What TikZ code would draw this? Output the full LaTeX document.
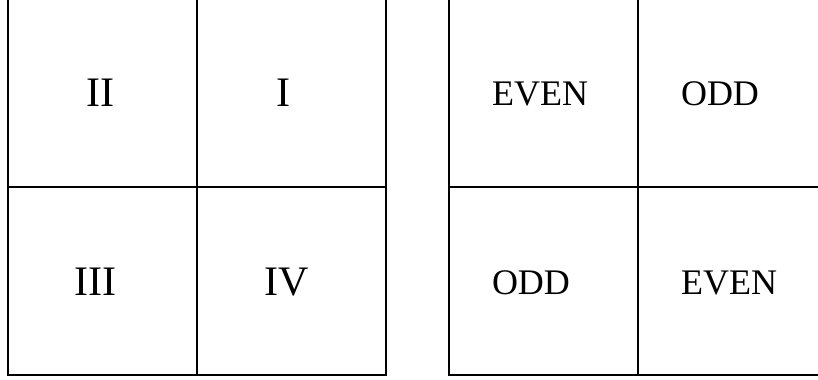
\documentclass[tikz,border=0pt]{standalone}
\usepackage{fontspec}
\setmainfont{Liberation Serif}
\begin{document}
\begin{tikzpicture}[x=0.75pt,y=-0.75pt,
		rejilla/.style={line width=1.5pt},
		grande/.style={anchor=base, inner sep=0pt, font=\fontsize{31.5}{36}\selectfont},
		chico/.style={anchor=base, inner sep=0pt, font=\fontsize{27}{32}\selectfont}]
		
		\useasboundingbox (0,0) rectangle (818,379);
		\clip (0,0) rectangle (818,379);
		
		% Cuadrantes
		\draw[rejilla] (8,-5) -- (8,375) -- (386,375) -- (386,-5);
		\draw[rejilla] (197,-5) -- (197,375);
		\draw[rejilla] (8,187) -- (386,187);
		
		\node[grande] (II) at (100,106) {II};
		\node[grande] (I) at (283,106) {I};
		\node[grande] (III) at (95.5,295) {III};
		\node[grande] (IV) at (286.5,295) {IV};
		
		% Paridad
		\draw[rejilla] (449,-5) -- (449,375) -- (827,375) -- (827,-5);
		\draw[rejilla] (638,-5) -- (638,375);
		\draw[rejilla] (449,187) -- (827,187);
		
		\node[chico] (parA) at (540,105) {EVEN};
		\node[chico] (imparA) at (720,105) {ODD};
		\node[chico] (imparB) at (531,294) {ODD};
		\node[chico] (parB) at (729,294) {EVEN};
		
	\end{tikzpicture}
\end{document}
